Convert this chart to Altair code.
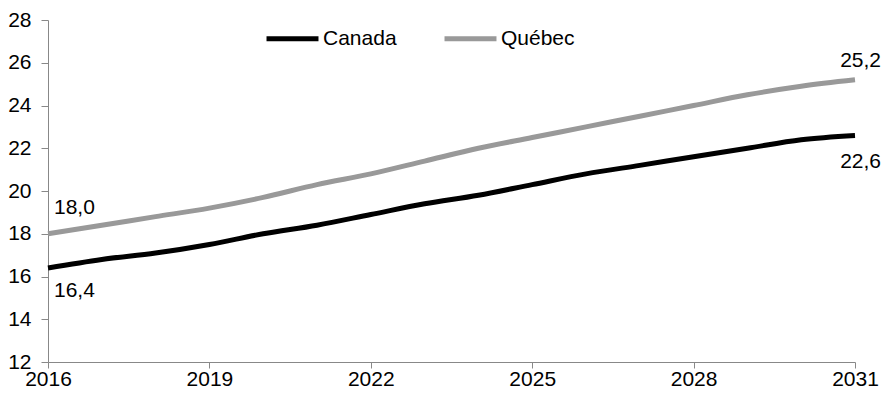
import altair as alt
import pandas as pd

years = list(range(2016, 2032))
canada = [16.4, 16.8, 17.1, 17.5, 18.0, 18.4, 18.9, 19.4, 19.8, 20.3, 20.8, 21.2, 21.6, 22.0, 22.4, 22.6]
quebec = [18.0, 18.4, 18.8, 19.2, 19.7, 20.3, 20.8, 21.4, 22.0, 22.5, 23.0, 23.5, 24.0, 24.5, 24.9, 25.2]
series = ["Canada", "Québec"]
colors = ["#000000", "#999999"]
x_ticks = [2016, 2019, 2022, 2025, 2028, 2031]
y_ticks = [12, 14, 16, 18, 20, 22, 24, 26, 28]

rows = []
for y, c, q in zip(years, canada, quebec):
    rows.append({"year": y, "series": "Canada", "value": c})
    rows.append({"year": y, "series": "Québec", "value": q})
df = pd.DataFrame(rows)

def fmt(v):
    return f"{v:.1f}".replace(".", ",")

lab_above = pd.DataFrame([{"year": years[0], "value": quebec[0], "label": fmt(quebec[0])}])
lab_above_end = pd.DataFrame([{"year": years[-1], "value": quebec[-1], "label": fmt(quebec[-1])}])
lab_below = pd.DataFrame([{"year": years[0], "value": canada[0], "label": fmt(canada[0])}])
lab_below_end = pd.DataFrame([{"year": years[-1], "value": canada[-1], "label": fmt(canada[-1])}])

FONT = "Liberation Sans"
FS = 21

xs = alt.Scale(domain=[2016, 2031], nice=False, zero=False)
ys = alt.Scale(domain=[12, 28], nice=False, zero=False)

lines = alt.Chart(df).mark_line(strokeWidth=5, interpolate="monotone").encode(
    x=alt.X("year:Q", scale=xs, title=None,
            axis=alt.Axis(values=x_ticks, format="d", grid=False, labelFontSize=FS,
                          labelFont=FONT, labelColor="#000", domainColor="#888",
                          tickColor="#888", tickSize=6, labelPadding=0,
                          labelFlush=False)),
    y=alt.Y("value:Q", scale=ys, title=None,
            axis=alt.Axis(values=y_ticks, grid=False, labelFontSize=FS, labelFont=FONT,
                          labelColor="#000", domainColor="#888", tickColor="#888",
                          tickSize=7, labelPadding=10)),
    color=alt.Color("series:N", scale=alt.Scale(domain=series, range=colors),
                    legend=alt.Legend(title=None, orient="none", legendX=216, legendY=-10,
                                      direction="horizontal", symbolType="stroke",
                                      symbolSize=2700, symbolStrokeWidth=5,
                                      labelFontSize=FS, labelFont=FONT, labelColor="#000",
                                      columnPadding=37, labelOffset=2)),
)

def txt(d, dx, dy, align):
    return alt.Chart(d).mark_text(align=align, dx=dx, dy=dy, fontSize=FS, font=FONT,
                                  color="#000").encode(
        x=alt.X("year:Q", scale=xs), y=alt.Y("value:Q", scale=ys), text="label:N")

chart = alt.layer(
    lines,
    txt(lab_above, 6, -26, "left"),
    txt(lab_above_end, 26, -19, "right"),
    txt(lab_below, 6, 23, "left"),
    txt(lab_below_end, 26, 27, "right"),
).properties(
    width=807, height=342,
    autosize=alt.AutoSizeParams(type="none"),
    padding={"left": 40, "top": 12, "right": 26, "bottom": 30},
).configure_view(stroke=None)

chart.save("out.html", embed_options={"renderer": "svg", "actions": False})
